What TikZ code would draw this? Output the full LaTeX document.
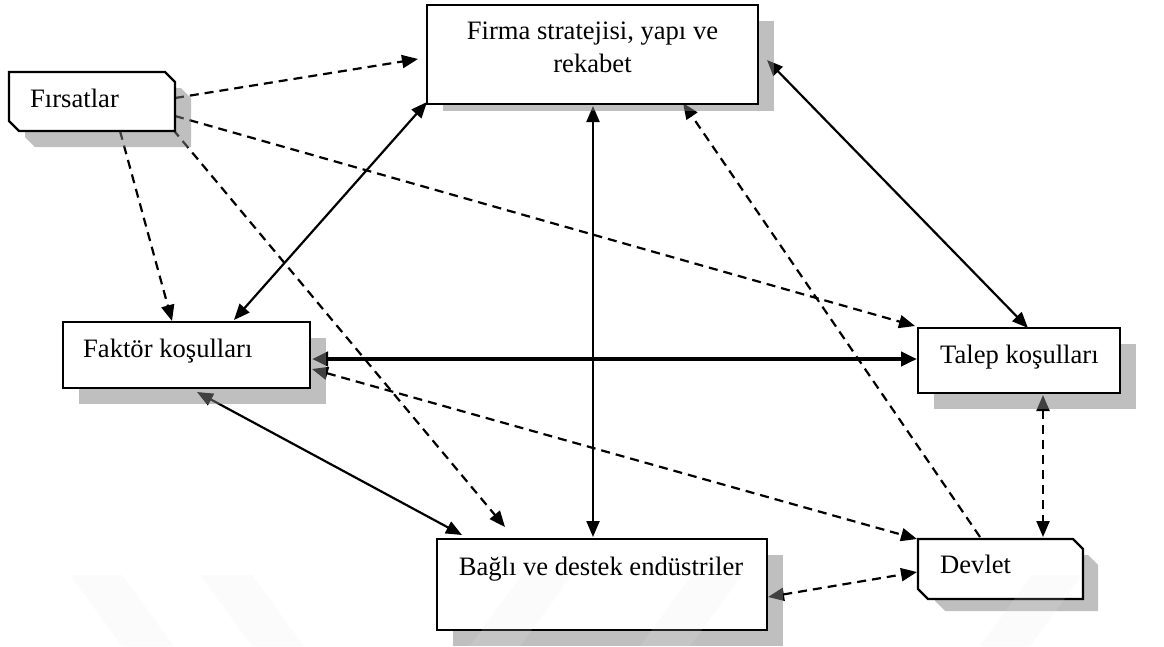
\documentclass[tikz,border=0pt]{standalone}
\usepackage{fontspec}
\setmainfont{Liberation Serif}
\usetikzlibrary{arrows.meta,calc}
\pgfdeclarelayer{lines}
\pgfdeclarelayer{shadows}
\pgfdeclarelayer{marks}
\pgfsetlayers{lines,shadows,main,marks}

% outline of a box with its north-east and south-west corners cut off
\newcommand{\cutcorners}[3]{%
  \path[#1] (#2.north west) -- ($(#2.north east)+(-#3,0)$) -- ($(#2.north east)+(0,-#3)$)
    -- (#2.south east) -- ($(#2.south west)+(#3,0)$) -- ($(#2.south west)+(0,#3)$) -- cycle;}

\begin{document}
\begin{tikzpicture}[x=1pt,y=1pt,
  font=\fontsize{26.6}{33}\selectfont,
  box/.style={draw=black,line width=2.4pt,fill=white,rectangle,inner sep=0pt,outer sep=0pt},
  frame/.style={rectangle,inner sep=0pt,outer sep=0pt},
  edge/.style={draw=black,line width=2.4pt,fill=white},
  shade/.style={fill=black!50,fill opacity=0.5,draw=none},
  label/.style={inner sep=0pt,anchor=base west},
  link/.style={line width=2.2pt},
  dlink/.style={link,dash pattern=on 9pt off 6pt},
  >={Triangle[length=16pt,width=13pt]},
  band/.style={fill=black!10,fill opacity=0.15,draw=none}]

\useasboundingbox (0,0) rectangle (1164,-646);

% boxes
\node[frame,minimum width=166pt,minimum height=59pt] (firsat) at (92,-101.5) {};
\node[box,minimum width=331pt,minimum height=99pt] (firma) at (592.5,-54.5) {};
\node[box,minimum width=247pt,minimum height=66pt] (faktor) at (186.5,-355) {};
\node[box,minimum width=202pt,minimum height=65pt] (talep) at (1019,-360.5) {};
\node[box,minimum width=330pt,minimum height=91pt] (bagli) at (602,-584.5) {};
\node[frame,minimum width=165pt,minimum height=60pt] (devlet) at (1000.5,-569) {};
\cutcorners{edge}{firsat}{10}
\cutcorners{edge}{devlet}{10}

% texts
\node[label] (firsat-l) at (30,-107) {Fırsatlar};
\node[inner sep=0pt,anchor=north,align=center] (firma-l) at (592.5,-22) {Firma stratejisi, yapı ve\\rekabet};
\node[label] (faktor-l) at (83,-357) {Faktör koşulları};
\node[label] (talep-l) at (940,-363) {Talep koşulları};
\node[inner sep=0pt,anchor=base] (bagli-l) at (601,-575) {Bağlı ve destek endüstriler};
\node[label] (devlet-l) at (940,-573) {Devlet};

% drop shadows
\begin{pgfonlayer}{shadows}
\node[frame,minimum width=166pt,minimum height=59pt] (firsat-sh) at ($(firsat.center)+(16,-16)$) {};
\cutcorners{shade}{firsat-sh}{10}
\fill[shade] ($(firma.north west)+(16,-16)$) rectangle ($(firma.south east)+(16,-7)$);
\fill[shade] ($(faktor.north west)+(16,-16)$) rectangle ($(faktor.south east)+(16,-16)$);
\fill[shade] ($(talep.north west)+(16,-16)$) rectangle ($(talep.south east)+(16,-16)$);
\fill[shade] ($(bagli.north west)+(16,-16)$) rectangle ($(bagli.south east)+(16,-16)$);
\node[frame,minimum width=163pt,minimum height=56pt] (devlet-sh) at ($(devlet.center)+(16,-14)$) {};
\cutcorners{shade}{devlet-sh}{10}
\end{pgfonlayer}

% connectors
\begin{pgfonlayer}{lines}
\draw[dlink,->] ($(firsat.east)+(0,3.5)$) -- ($(firma.west)+(-9,-4.5)$);
\draw[dlink,->] ($(firsat.east)+(0,-14.5)$) -- ($(talep.north west)+(-3,2)$);
\draw[dlink,->] ($(firsat.south)+(28,0)$) -- ($(faktor.north)+(-14.5,1)$);
\draw[dlink,->] ($(firsat.east)+(-2,-28)$) -- ($(bagli.north)+(-97,12)$);
\draw[link,<->] ($(firma.south west)+(0,2)$) -- ($(faktor.north)+(47.5,2)$);
\draw[link,<->] ($(firma.south)+(0.5,-2)$) -- ($(bagli.north)+(-9,2)$);
\draw[link,<->] ($(firma.east)+(9,-5.5)$) -- ($(talep.north)+(9,0)$);
\draw[dlink,->] ($(devlet.north)+(-20.5,2)$) -- ($(firma.south)+(90.5,1)$);
\draw[link,line width=4pt,<->,>={Triangle[length=16pt,width=14pt]}] ($(faktor.east)+(2,-4)$) -- ($(talep.west)+(-1,1.5)$);
\draw[dlink,<->] ($(faktor.east)+(2,-14)$) -- ($(devlet.west)+(-1,30)$);
\draw[link,<->] ($(faktor.south)+(10.5,-4)$) -- ($(bagli.north west)+(25,4)$);
\draw[dlink,<->] ($(talep.south)+(24,-2)$) -- ($(devlet.north)+(42.5,2)$);
\draw[dlink,<->] ($(bagli.east)+(1,-12.5)$) -- ($(devlet.west)+(-1,-3)$);
\end{pgfonlayer}

% faint diagonal bands along the bottom edge
\begin{pgfonlayer}{marks}
\fill[band] (70,-575) -- (122,-575) -- (174,-646) -- (122,-646) -- cycle;
\fill[band] (200,-575) -- (252,-575) -- (304,-646) -- (252,-646) -- cycle;
\fill[band] (522,-575) -- (572,-575) -- (520,-646) -- (470,-646) -- cycle;
\fill[band] (692,-575) -- (742,-575) -- (690,-646) -- (640,-646) -- cycle;
\fill[band] (1032,-575) -- (1082,-575) -- (1030,-646) -- (980,-646) -- cycle;
\end{pgfonlayer}
\end{tikzpicture}
\end{document}
